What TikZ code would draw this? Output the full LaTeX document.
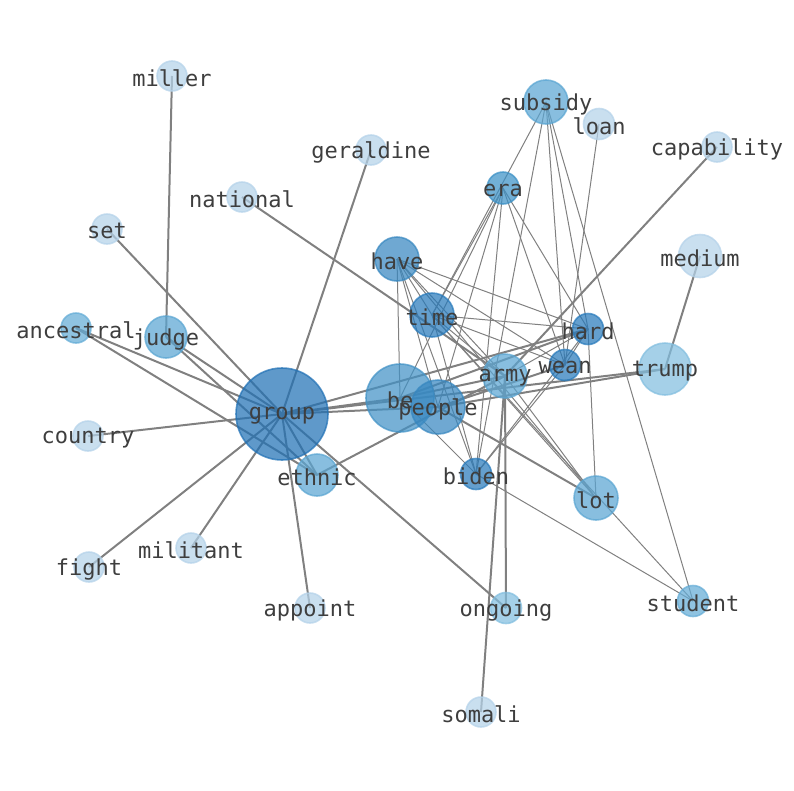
\documentclass[tikz,border=0pt]{standalone}
\usepackage{fontspec}
\newfontfamily\labfont{DejaVu Sans Mono}
\pgfdeclarelayer{bg}
\pgfdeclarelayer{fg}
\pgfsetlayers{bg,main,fg}
\definecolor{cG}{RGB}{33,113,181}
\definecolor{cB}{RGB}{66,146,198}
\definecolor{cP}{RGB}{55,135,192}
\definecolor{cD}{RGB}{40,122,187}
\definecolor{cH}{RGB}{55,135,192}
\definecolor{cE}{RGB}{60,145,198}
\definecolor{cM}{RGB}{90,165,210}
\definecolor{cS}{RGB}{100,172,214}
\definecolor{cT}{RGB}{130,190,223}
\definecolor{cL}{RGB}{180,210,233}
\definecolor{labcol}{RGB}{62,62,62}
\tikzset{
  vtx/.style 2 args={circle, inner sep=0pt, minimum size=#1pt, fill=#2, draw=#2, fill opacity=0.72, draw opacity=0.72, line width=1.6pt},
  lab/.style={font=\labfont\fontsize{22}{22}\selectfont, text=labcol, inner sep=0pt, yshift=-2pt},
  thick edge/.style={draw=gray, line width=2pt},
  thin edge/.style={draw=gray, line width=1pt}
}
\begin{document}
\begin{tikzpicture}[x=1pt,y=-1pt]
\useasboundingbox (0,0) rectangle (794,790);
% nodes
\node[vtx={92}{cG}] (group) at (282,414) {};
\node[vtx={68}{cB}] (be) at (400,398) {};
\node[vtx={54}{cP}] (people) at (438,407) {};
\node[vtx={42}{cM}] (ethnic) at (317,475) {};
\node[vtx={42}{cM}] (judge) at (166,337) {};
\node[vtx={30}{cS}] (ancestral) at (76,328) {};
\node[vtx={30}{cL}] (miller) at (172,76) {};
\node[vtx={30}{cL}] (geraldine) at (371,150) {};
\node[vtx={30}{cL}] (national) at (242,197) {};
\node[vtx={30}{cL}] (set) at (107,229) {};
\node[vtx={30}{cL}] (country) at (88,436) {};
\node[vtx={30}{cL}] (fight) at (89,567) {};
\node[vtx={30}{cL}] (militant) at (191,548) {};
\node[vtx={30}{cL}] (appoint) at (310,608) {};
\node[vtx={30}{cL}] (somali) at (481,712) {};
\node[vtx={31}{cT}] (ongoing) at (506,608) {};
\node[vtx={31}{cS}] (student) at (693,601) {};
\node[vtx={44}{cM}] (lot) at (596,498) {};
\node[vtx={31}{cD}] (biden) at (476,474) {};
\node[vtx={44}{cM}] (army) at (505,376) {};
\node[vtx={31}{cD}] (wean) at (565,365) {};
\node[vtx={31}{cD}] (hard) at (588,329) {};
\node[vtx={52}{cT}] (trump) at (665,369) {};
\node[vtx={43}{cL}] (medium) at (700,256) {};
\node[vtx={30}{cL}] (capability) at (717,147) {};
\node[vtx={31}{cL}] (loan) at (599,124) {};
\node[vtx={44}{cM}] (subsidy) at (546,102) {};
\node[vtx={32}{cE}] (era) at (503,188) {};
\node[vtx={44}{cH}] (have) at (397,259) {};
\node[vtx={44}{cD}] (time) at (432,315) {};
% edges
\begin{pgfonlayer}{bg}
\foreach \a/\b in {group/set, group/ancestral, group/judge, group/country, group/fight,
  group/militant, group/appoint, group/geraldine, group/ongoing, group/be, group/people,
  group/trump, group/ethnic, group/hard, ancestral/ethnic, judge/ethnic, judge/miller,
  national/army, capability/army, medium/trump, army/ongoing, somali/army, people/lot,
  ethnic/army, be/army, be/hard, people/wean, people/trump}
  \draw[thick edge] (\a.center) -- (\b.center);
\foreach \a/\b in {have/time, have/hard, have/wean, have/army, have/lot, have/biden,
  have/be, have/people, time/hard, time/wean, time/army, time/biden, time/lot,
  time/student, time/era, subsidy/time, subsidy/biden, subsidy/wean, subsidy/hard,
  subsidy/student, era/be, era/people, era/biden, era/wean, era/hard, loan/wean,
  biden/wean, biden/hard, biden/student, biden/be, hard/lot, hard/army, hard/wean,
  army/lot}
  \draw[thin edge] (\a.center) -- (\b.center);
\end{pgfonlayer}
% labels
\begin{pgfonlayer}{fg}
\foreach \n in {group, be, people, ethnic, judge, ancestral, miller, geraldine, national,
  set, country, fight, militant, appoint, somali, ongoing, student, lot, biden, army,
  wean, hard, trump, medium, capability, loan, subsidy, era, have, time}
  \node[lab] (\n-t) at (\n) {\n};
\end{pgfonlayer}
\end{tikzpicture}
\end{document}
